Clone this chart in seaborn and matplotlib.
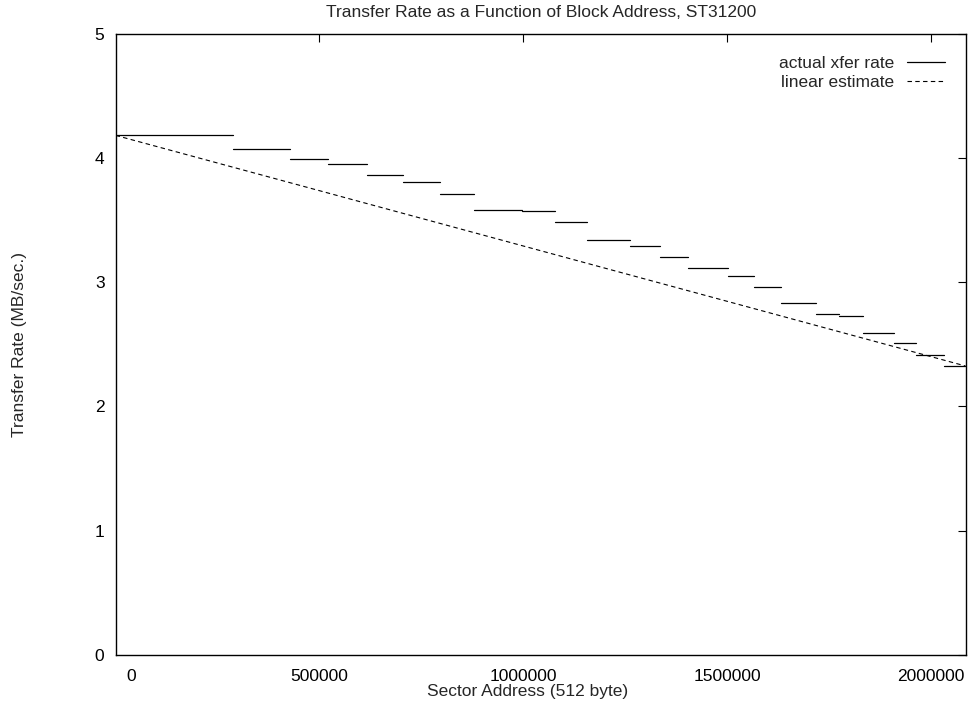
import matplotlib
matplotlib.use('Agg')
import matplotlib.pyplot as plt
import matplotlib.transforms as mtransforms
from matplotlib.lines import Line2D
import seaborn as sns
import pandas as pd

# zone boundaries (sector address) and measured rate in each zone
zone_edges = [0, 288800, 427900, 521900, 616000, 705900, 796000, 880000,
              996300, 1078000, 1155800, 1262000, 1335600, 1405000, 1501700,
              1567000, 1631700, 1717600, 1775600, 1832900, 1910400, 1962900,
              2032300, 2085000]
zone_rates = [4.182, 4.072, 3.992, 3.954, 3.863, 3.804, 3.712, 3.584, 3.571,
              3.482, 3.340, 3.291, 3.200, 3.112, 3.050, 2.962, 2.833, 2.742,
              2.731, 2.591, 2.511, 2.414, 2.323]

# linear estimate end points
lin_x = [0, 2085000]
lin_y = [4.182, 2.326]

x_ticks = [0, 500000, 1000000, 1500000, 2000000]
y_ticks = [0, 1, 2, 3, 4, 5]

# segment table: every zone is a flat line from its start to its end
rows = []
for i, r in enumerate(zone_rates):
    rows.append({'x': zone_edges[i], 'rate': r, 'seg': i})
    rows.append({'x': zone_edges[i + 1], 'rate': r, 'seg': i})
steps_df = pd.DataFrame(rows)
lin_df = pd.DataFrame({'x': lin_x, 'rate': lin_y})

sns.set_style('white')
plt.rcParams['font.family'] = ['Liberation Sans', 'DejaVu Sans']
fs = 12.5

fig = plt.figure(figsize=(9.69, 7.04), dpi=100)
ax = fig.add_axes([0.1193, 0.0696, 0.9966 - 0.1193, 0.9521 - 0.0696])

sns.lineplot(data=steps_df, x='x', y='rate', units='seg', estimator=None,
             color='black', linewidth=0.9, ax=ax)
sns.lineplot(data=lin_df, x='x', y='rate', color='black', linewidth=0.8,
             linestyle=(0, (4, 3)), ax=ax)

ax.set_xlim(0, 2085600)
ax.set_ylim(0, 5)
ax.set_xticks(x_ticks)
ax.set_xticklabels([str(v) for v in x_ticks], fontsize=fs)
ax.set_yticks(y_ticks)
ax.set_yticklabels([str(v) for v in y_ticks], fontsize=fs)
ax.tick_params(direction='in', top=True, right=True, length=6, width=0.8,
               pad=8, colors='black')
ax.tick_params(axis='x', pad=10)
# gnuplot puts the "0" label a bit to the right, no tick mark there
ax.xaxis.get_major_ticks()[0].tick1line.set_visible(False)
ax.xaxis.get_major_ticks()[0].tick2line.set_visible(False)
lab0 = ax.get_xticklabels()[0]
lab0.set_transform(lab0.get_transform() +
                   mtransforms.ScaledTranslation(16 / 100, 0, fig.dpi_scale_trans))

for s in ax.spines.values():
    s.set_color('black')
    s.set_linewidth(1.0)

ax.set_xlabel('Sector Address (512 byte)', fontsize=fs, labelpad=0)
ax.xaxis.set_label_coords(0.485, -0.047)
ax.set_ylabel('Transfer Rate (MB/sec.)', fontsize=fs, labelpad=49)
ax.set_title('Transfer Rate as a Function of Block Address, ST31200',
             fontsize=fs, pad=12)

handles = [Line2D([], [], color='black', linewidth=0.9),
           Line2D([], [], color='black', linewidth=0.8, linestyle=(0, (4, 3)))]
ax.legend(handles, ['actual xfer rate', 'linear estimate'], loc='upper right',
          bbox_to_anchor=(0.9757, 0.964), frameon=False, markerfirst=False,
          fontsize=fs, handlelength=2.2, handletextpad=0.75, borderpad=0,
          borderaxespad=0, labelspacing=0.22)

plt.savefig('out.png', dpi=100)
